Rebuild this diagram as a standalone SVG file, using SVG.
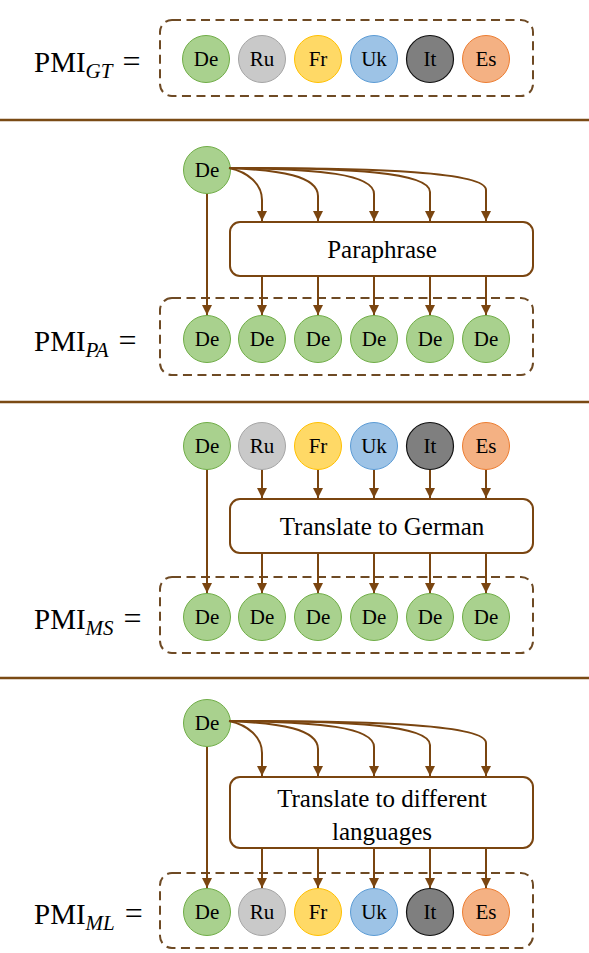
<svg xmlns="http://www.w3.org/2000/svg" width="589" height="953" viewBox="0 0 589 953">
<defs>
<marker id="arr" markerUnits="userSpaceOnUse" markerWidth="10" markerHeight="10" refX="10" refY="5" orient="auto">
<path d="M0,0 L10,5 L0,10 z" fill="#7A4510"/>
</marker>
</defs>
<style>
.sep{stroke:#7A4A14;stroke-width:2.5;}
.dash{fill:none;stroke:#6E4A24;stroke-width:2;stroke-dasharray:9 5.5;}
.proc{fill:#fff;stroke:#7A4510;stroke-width:2;}
.c{stroke:#7A4510;stroke-width:2;fill:none;marker-end:url(#arr);}
.t{font-family:"Liberation Serif","Times New Roman",serif;fill:#000;}
.ct{font-size:21px;text-anchor:middle;}
.pt{font-size:25px;text-anchor:middle;}
.lbl{font-size:29px;}
.sub{font-size:21px;font-style:italic;}
.eq{font-size:32px;}
.de{fill:#A9D18E;stroke:#70AD47;stroke-width:1;}
.ru{fill:#C9C9C9;stroke:#A5A5A5;stroke-width:1;}
.fr{fill:#FFD966;stroke:#FFC000;stroke-width:1;}
.uk{fill:#9DC3E6;stroke:#5B9BD5;stroke-width:1;}
.it{fill:#7F7F7F;stroke:#111;stroke-width:1.2;}
.es{fill:#F4B183;stroke:#ED7D31;stroke-width:1;}
</style>
<rect width="589" height="953" fill="#fff"/>

<g id="separators">
<line class="sep" x1="0" y1="120" x2="589" y2="120"/>
<line class="sep" x1="0" y1="402" x2="589" y2="402"/>
<line class="sep" x1="0" y1="678" x2="589" y2="678"/>
</g>

<!-- Panel 1 -->
<g id="label-gt"><text class="t lbl" x="34" y="72">PMI<tspan class="sub" dy="6">GT</tspan><tspan class="eq" dy="-6" dx="10">=</tspan></text></g>
<g id="set-gt">
<rect class="dash" x="160" y="20" width="373" height="76" rx="12"/>
<g id="gt-de"><circle class="de" cx="206" cy="59" r="23.5"/><text class="t ct" x="206" y="66">De</text></g>
<g id="gt-ru"><circle class="ru" cx="262" cy="59" r="23.5"/><text class="t ct" x="262" y="66">Ru</text></g>
<g id="gt-fr"><circle class="fr" cx="318" cy="59" r="23.5"/><text class="t ct" x="318" y="66">Fr</text></g>
<g id="gt-uk"><circle class="uk" cx="374" cy="59" r="23.5"/><text class="t ct" x="374" y="66">Uk</text></g>
<g id="gt-it"><circle class="it" cx="430" cy="59" r="23.5"/><text class="t ct" x="430" y="66">It</text></g>
<g id="gt-es"><circle class="es" cx="486" cy="59" r="23.5"/><text class="t ct" x="486" y="66">Es</text></g>
</g>

<!-- Panel 2 -->
<g id="pa-src"><circle class="de" cx="207" cy="170" r="23.5"/><text class="t ct" x="207" y="177">De</text></g>
<g id="pa-proc"><rect class="proc" x="230" y="222" width="303" height="54" rx="10"/><text class="t pt" x="382" y="258">Paraphrase</text></g>
<g id="label-pa"><text class="t lbl" x="34" y="351">PMI<tspan class="sub" dy="6">PA</tspan><tspan class="eq" dy="-6" dx="10">=</tspan></text></g>
<g id="set-pa">
<rect class="dash" x="160" y="298" width="373" height="77" rx="12"/>
<g id="pa-1"><circle class="de" cx="207" cy="339" r="23.5"/><text class="t ct" x="207" y="346">De</text></g>
<g id="pa-2"><circle class="de" cx="262" cy="339" r="23.5"/><text class="t ct" x="262" y="346">De</text></g>
<g id="pa-3"><circle class="de" cx="318" cy="339" r="23.5"/><text class="t ct" x="318" y="346">De</text></g>
<g id="pa-4"><circle class="de" cx="374" cy="339" r="23.5"/><text class="t ct" x="374" y="346">De</text></g>
<g id="pa-5"><circle class="de" cx="430" cy="339" r="23.5"/><text class="t ct" x="430" y="346">De</text></g>
<g id="pa-6"><circle class="de" cx="486" cy="339" r="23.5"/><text class="t ct" x="486" y="346">De</text></g>
</g>

<!-- Panel 3 -->
<g id="ms-de"><circle class="de" cx="207" cy="446" r="23.5"/><text class="t ct" x="207" y="453">De</text></g>
<g id="ms-ru"><circle class="ru" cx="262" cy="446" r="23.5"/><text class="t ct" x="262" y="453">Ru</text></g>
<g id="ms-fr"><circle class="fr" cx="318" cy="446" r="23.5"/><text class="t ct" x="318" y="453">Fr</text></g>
<g id="ms-uk"><circle class="uk" cx="374" cy="446" r="23.5"/><text class="t ct" x="374" y="453">Uk</text></g>
<g id="ms-it"><circle class="it" cx="430" cy="446" r="23.5"/><text class="t ct" x="430" y="453">It</text></g>
<g id="ms-es"><circle class="es" cx="486" cy="446" r="23.5"/><text class="t ct" x="486" y="453">Es</text></g>
<g id="ms-proc"><rect class="proc" x="230" y="499" width="303" height="54" rx="10"/><text class="t pt" x="382" y="535">Translate to German</text></g>
<g id="label-ms"><text class="t lbl" x="34" y="629">PMI<tspan class="sub" dy="6">MS</tspan><tspan class="eq" dy="-6" dx="10">=</tspan></text></g>
<g id="set-ms">
<rect class="dash" x="160" y="577" width="373" height="76" rx="12"/>
<g id="ms-1"><circle class="de" cx="207" cy="617" r="23.5"/><text class="t ct" x="207" y="624">De</text></g>
<g id="ms-2"><circle class="de" cx="262" cy="617" r="23.5"/><text class="t ct" x="262" y="624">De</text></g>
<g id="ms-3"><circle class="de" cx="318" cy="617" r="23.5"/><text class="t ct" x="318" y="624">De</text></g>
<g id="ms-4"><circle class="de" cx="374" cy="617" r="23.5"/><text class="t ct" x="374" y="624">De</text></g>
<g id="ms-5"><circle class="de" cx="430" cy="617" r="23.5"/><text class="t ct" x="430" y="624">De</text></g>
<g id="ms-6"><circle class="de" cx="486" cy="617" r="23.5"/><text class="t ct" x="486" y="624">De</text></g>
</g>

<!-- Panel 4 -->
<g id="ml-src"><circle class="de" cx="207" cy="723" r="23.5"/><text class="t ct" x="207" y="730">De</text></g>
<g id="ml-proc"><rect class="proc" x="230" y="777" width="303" height="71" rx="10"/><text class="t pt" x="382" y="807">Translate to different</text><text class="t pt" x="382" y="840">languages</text></g>
<g id="label-ml"><text class="t lbl" x="34" y="924">PMI<tspan class="sub" dy="6">ML</tspan><tspan class="eq" dy="-6" dx="10">=</tspan></text></g>
<g id="set-ml">
<rect class="dash" x="160" y="873" width="373" height="75" rx="12"/>
<g id="ml-de"><circle class="de" cx="207" cy="912" r="23.5"/><text class="t ct" x="207" y="919">De</text></g>
<g id="ml-ru"><circle class="ru" cx="262" cy="912" r="23.5"/><text class="t ct" x="262" y="919">Ru</text></g>
<g id="ml-fr"><circle class="fr" cx="318" cy="912" r="23.5"/><text class="t ct" x="318" y="919">Fr</text></g>
<g id="ml-uk"><circle class="uk" cx="374" cy="912" r="23.5"/><text class="t ct" x="374" y="919">Uk</text></g>
<g id="ml-it"><circle class="it" cx="430" cy="912" r="23.5"/><text class="t ct" x="430" y="919">It</text></g>
<g id="ml-es"><circle class="es" cx="486" cy="912" r="23.5"/><text class="t ct" x="486" y="919">Es</text></g>
</g>

<g id="connectors">
<!-- Panel 2 -->
<path class="c" d="M207,194 L207,315"/>
<path class="c" d="M229,168 C248,172 262,184 262,200 L262,221"/>
<path class="c" d="M229,168 C280,170 318,176 318,196 L318,221"/>
<path class="c" d="M229,168 C320,169 374,174 374,194 L374,221"/>
<path class="c" d="M229,168 C350,168 430,172 430,192 L430,221"/>
<path class="c" d="M229,168 C380,168 486,172 486,190 L486,221"/>
<path class="c" d="M262,276 L262,315"/>
<path class="c" d="M318,276 L318,315"/>
<path class="c" d="M374,276 L374,315"/>
<path class="c" d="M430,276 L430,315"/>
<path class="c" d="M486,276 L486,315"/>
<!-- Panel 3 -->
<path class="c" d="M207,470 L207,593"/>
<path class="c" d="M262,470 L262,498"/>
<path class="c" d="M318,470 L318,498"/>
<path class="c" d="M374,470 L374,498"/>
<path class="c" d="M430,470 L430,498"/>
<path class="c" d="M486,470 L486,498"/>
<path class="c" d="M262,553 L262,593"/>
<path class="c" d="M318,553 L318,593"/>
<path class="c" d="M374,553 L374,593"/>
<path class="c" d="M430,553 L430,593"/>
<path class="c" d="M486,553 L486,593"/>
<!-- Panel 4 -->
<path class="c" d="M207,747 L207,888"/>
<path class="c" d="M229,721 C248,725 262,737 262,753 L262,776"/>
<path class="c" d="M229,721 C280,723 318,729 318,749 L318,776"/>
<path class="c" d="M229,721 C320,722 374,727 374,747 L374,776"/>
<path class="c" d="M229,721 C350,721 430,725 430,745 L430,776"/>
<path class="c" d="M229,721 C380,721 486,725 486,743 L486,776"/>
<path class="c" d="M262,848 L262,888"/>
<path class="c" d="M318,848 L318,888"/>
<path class="c" d="M374,848 L374,888"/>
<path class="c" d="M430,848 L430,888"/>
<path class="c" d="M486,848 L486,888"/>
</g>
</svg>
